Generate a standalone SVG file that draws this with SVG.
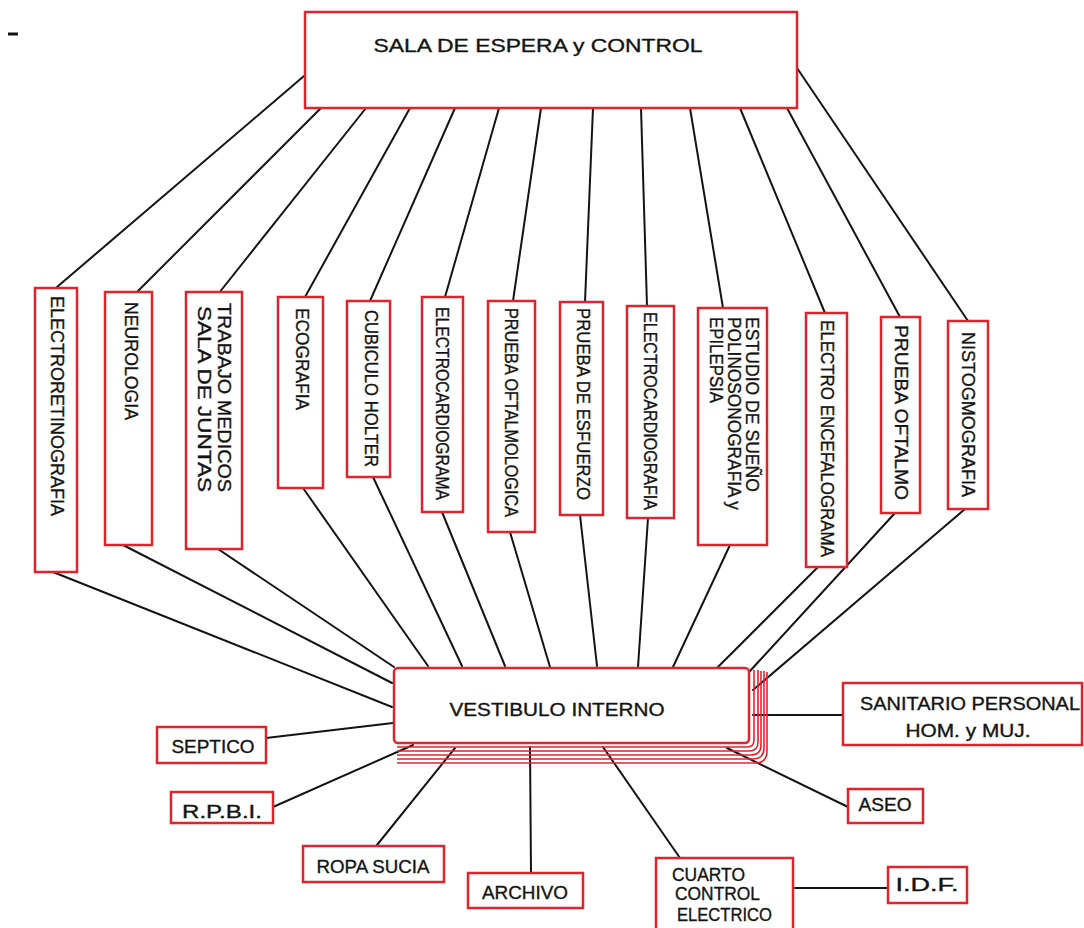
<svg xmlns="http://www.w3.org/2000/svg" width="1084" height="928" viewBox="0 0 1084 928">
<style>
.bx{fill:#fff;stroke:#e3232b;stroke-width:2.5}
.st{fill:none;stroke:#e3232b;stroke-width:1.6}
.t{font-family:"Liberation Sans",Arial,sans-serif;fill:#141414;font-size:18px;stroke:#141414;stroke-width:0.35}
.v{font-size:18px}
.c line{stroke:#141414;stroke-width:2;stroke-linecap:round}
</style>
<rect width="1084" height="928" fill="#fff"/>
<line x1="8" y1="34" x2="18" y2="34" stroke="#141414" stroke-width="3"/>
<g id="connectors" class="c">
<line x1="304" y1="76" x2="57" y2="287"/>
<line x1="321" y1="108" x2="137" y2="292"/>
<line x1="366" y1="108" x2="219" y2="293"/>
<line x1="410" y1="108" x2="305" y2="297"/>
<line x1="455" y1="108" x2="370" y2="301"/>
<line x1="499" y1="108" x2="445" y2="297"/>
<line x1="541" y1="108" x2="513" y2="301"/>
<line x1="593" y1="108" x2="585" y2="302"/>
<line x1="641" y1="108" x2="647" y2="306"/>
<line x1="690" y1="108" x2="723" y2="308"/>
<line x1="740" y1="108" x2="825" y2="313"/>
<line x1="787" y1="108" x2="900" y2="317"/>
<line x1="797" y1="68" x2="968" y2="321"/>
<line x1="53" y1="572" x2="392" y2="707"/>
<line x1="123" y1="545" x2="392" y2="683"/>
<line x1="218" y1="549" x2="394" y2="667"/>
<line x1="303" y1="488" x2="428" y2="666"/>
<line x1="373" y1="477" x2="462" y2="666"/>
<line x1="442" y1="512" x2="505" y2="666"/>
<line x1="510" y1="532" x2="550" y2="667"/>
<line x1="580" y1="515" x2="597" y2="666"/>
<line x1="648" y1="518" x2="638" y2="667"/>
<line x1="730" y1="545" x2="673" y2="667"/>
<line x1="818" y1="567" x2="715" y2="670"/>
<line x1="895" y1="513" x2="750" y2="671"/>
<line x1="965" y1="509" x2="753" y2="690"/>
<line x1="266" y1="738" x2="393" y2="723"/>
<line x1="273" y1="807" x2="413" y2="745"/>
<line x1="377" y1="845" x2="455" y2="748"/>
<line x1="531" y1="873" x2="530" y2="747"/>
<line x1="680" y1="858" x2="603" y2="747"/>
<line x1="795" y1="888" x2="887" y2="888"/>
<line x1="848" y1="807" x2="727" y2="748"/>
<line x1="842" y1="715" x2="753" y2="715"/>
</g>
<g id="sala-espera">
<rect class="bx" x="305" y="12" width="492" height="96"/>
<text class="t" x="538" y="52" text-anchor="middle" font-size="20" textLength="329" lengthAdjust="spacingAndGlyphs">SALA DE ESPERA y CONTROL</text>
</g>
<g id="electroretinografia">
<rect class="bx" x="35" y="288" width="42" height="284"/>
<text class="t v" transform="translate(57 296) rotate(90)" y="6.5" textLength="220" lengthAdjust="spacingAndGlyphs">ELECTRORETINOGRAFIA</text>
</g>
<g id="neurologia">
<rect class="bx" x="105" y="292" width="47" height="253"/>
<text class="t v" transform="translate(131 302) rotate(90)" y="6.5" textLength="118" lengthAdjust="spacingAndGlyphs">NEUROLOGIA</text>
</g>
<g id="trabajo-medicos">
<rect class="bx" x="186" y="292" width="56" height="257"/>
<text class="t v" transform="translate(224 303) rotate(90)" y="6.5" textLength="189" lengthAdjust="spacingAndGlyphs">TRABAJO MEDICOS</text>
<text class="t v" transform="translate(204 306) rotate(90)" y="6.5" textLength="186" lengthAdjust="spacingAndGlyphs">SALA DE JUNTAS</text>
</g>
<g id="ecografia">
<rect class="bx" x="278" y="297" width="45" height="191"/>
<text class="t v" transform="translate(302 308) rotate(90)" y="6.5" textLength="102" lengthAdjust="spacingAndGlyphs">ECOGRAFIA</text>
</g>
<g id="cubiculo-holter">
<rect class="bx" x="347" y="301" width="43" height="176"/>
<text class="t v" transform="translate(371 310) rotate(90)" y="6.5" textLength="157" lengthAdjust="spacingAndGlyphs">CUBICULO HOLTER</text>
</g>
<g id="electrocardiograma">
<rect class="bx" x="422" y="297" width="41" height="215"/>
<text class="t v" transform="translate(442 307) rotate(90)" y="6.5" textLength="193" lengthAdjust="spacingAndGlyphs">ELECTROCARDIOGRAMA</text>
</g>
<g id="prueba-oftalmologica">
<rect class="bx" x="488" y="301" width="47" height="231"/>
<text class="t v" transform="translate(511 308) rotate(90)" y="6.5" textLength="209" lengthAdjust="spacingAndGlyphs">PRUEBA OFTALMOLOGICA</text>
</g>
<g id="prueba-esfuerzo">
<rect class="bx" x="560" y="302" width="43" height="213"/>
<text class="t v" transform="translate(583 308) rotate(90)" y="6.5" textLength="192" lengthAdjust="spacingAndGlyphs">PRUEBA DE ESFUERZO</text>
</g>
<g id="electrocardiografia">
<rect class="bx" x="627" y="306" width="47" height="212"/>
<text class="t v" transform="translate(650 312) rotate(90)" y="6.5" textLength="198" lengthAdjust="spacingAndGlyphs">ELECTROCARDIOGRAFIA</text>
</g>
<g id="estudio-sueno">
<rect class="bx" x="698" y="308" width="69" height="237"/>
<text class="t v" transform="translate(752 317) rotate(90)" y="6" font-size="16" textLength="175" lengthAdjust="spacingAndGlyphs">ESTUDIO DE SUEÑO</text>
<text class="t v" transform="translate(734 317) rotate(90)" y="6" font-size="16" textLength="193" lengthAdjust="spacingAndGlyphs">POLINOSONOGRAFIA y</text>
<text class="t v" transform="translate(716 317) rotate(90)" y="6" font-size="16" textLength="86" lengthAdjust="spacingAndGlyphs">EPILEPSIA</text>
</g>
<g id="electroencefalograma">
<rect class="bx" x="806" y="313" width="41" height="254"/>
<text class="t v" transform="translate(827 320) rotate(90)" y="6.5" textLength="237" lengthAdjust="spacingAndGlyphs">ELECTRO ENCEFALOGRAMA</text>
</g>
<g id="prueba-oftalmo">
<rect class="bx" x="881" y="317" width="39" height="196"/>
<text class="t v" transform="translate(901 325) rotate(90)" y="6.5" textLength="175" lengthAdjust="spacingAndGlyphs">PRUEBA OFTALMO</text>
</g>
<g id="nistogmografia">
<rect class="bx" x="948" y="321" width="40" height="188"/>
<text class="t v" transform="translate(968 332) rotate(90)" y="6.5" textLength="165" lengthAdjust="spacingAndGlyphs">NISTOGMOGRAFIA</text>
</g>
<g id="vestibulo-interno">
<path class="st" d="M397 747 H747 Q754 747 754 740 V670"/>
<path class="st" d="M397 751 H749 Q758 751 758 742 V670"/>
<path class="st" d="M397 755 H751 Q761 755 761 745 V671"/>
<path class="st" d="M397 759 H753 Q764 759 764 748 V671"/>
<path class="st" d="M397 763 H755 Q767 763 767 751 V672"/>
<rect class="bx" x="394" y="668" width="355" height="75" rx="4"/>
<text class="t" x="557" y="716" text-anchor="middle" font-size="21" textLength="215" lengthAdjust="spacingAndGlyphs">VESTIBULO INTERNO</text>
</g>
<g id="septico">
<rect class="bx" x="157" y="727" width="109" height="36"/>
<text class="t" x="213" y="753" text-anchor="middle" textLength="83" lengthAdjust="spacingAndGlyphs">SEPTICO</text>
</g>
<g id="rpbi">
<rect class="bx" x="171" y="792" width="102" height="31"/>
<text class="t" x="222" y="818" text-anchor="middle" textLength="80" lengthAdjust="spacingAndGlyphs">R.P.B.I.</text>
</g>
<g id="ropa-sucia">
<rect class="bx" x="303" y="846" width="141" height="36"/>
<text class="t" x="373" y="873" text-anchor="middle" textLength="113" lengthAdjust="spacingAndGlyphs">ROPA SUCIA</text>
</g>
<g id="archivo">
<rect class="bx" x="468" y="873" width="115" height="35"/>
<text class="t" x="525" y="899" text-anchor="middle" textLength="86" lengthAdjust="spacingAndGlyphs">ARCHIVO</text>
</g>
<g id="cuarto-control">
<rect class="bx" x="656" y="858" width="137" height="80"/>
<text class="t" x="672" y="881" textLength="73" lengthAdjust="spacingAndGlyphs">CUARTO</text>
<text class="t" x="675" y="900" textLength="85" lengthAdjust="spacingAndGlyphs">CONTROL</text>
<text class="t" x="677" y="921" textLength="95" lengthAdjust="spacingAndGlyphs">ELECTRICO</text>
</g>
<g id="idf">
<rect class="bx" x="888" y="867" width="79" height="36"/>
<text class="t" x="927" y="891" text-anchor="middle" textLength="63" lengthAdjust="spacingAndGlyphs">I.D.F.</text>
</g>
<g id="aseo">
<rect class="bx" x="848" y="789" width="75" height="34"/>
<text class="t" x="885" y="811" text-anchor="middle" textLength="53" lengthAdjust="spacingAndGlyphs">ASEO</text>
</g>
<g id="sanitario">
<rect class="bx" x="843" y="683" width="239" height="62"/>
<text class="t" x="970" y="710" text-anchor="middle" textLength="220" lengthAdjust="spacingAndGlyphs">SANITARIO PERSONAL</text>
<text class="t" x="968" y="737" text-anchor="middle" textLength="125" lengthAdjust="spacingAndGlyphs">HOM. y MUJ.</text>
</g>
</svg>
